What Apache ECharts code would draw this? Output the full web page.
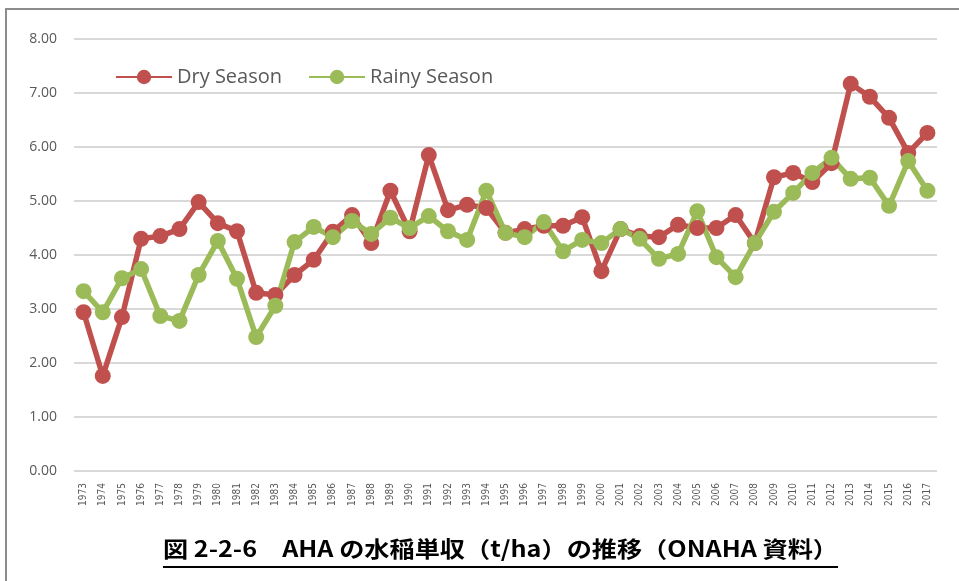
<!DOCTYPE html>
<html>
<head>
<meta charset="utf-8">
<script src="https://cdn.jsdelivr.net/npm/echarts@6/dist/echarts.min.js"></script>
<style>
  html, body { margin: 0; padding: 0; background: #fff; }
  #chart { width: 959px; height: 581px; }
</style>
</head>
<body>
<div id="chart"></div>
<script>
const years = [];
for (let y = 1973; y <= 2017; y++) years.push(String(y));

const drySeason = [
    2.94, 1.76, 2.85, 4.30, 4.35, 4.48, 4.98, 4.59, 4.44, 3.30,
    3.26, 3.63, 3.91, 4.43, 4.74, 4.22, 5.19, 4.44, 5.85, 4.83,
    4.93, 4.87, 4.41, 4.48, 4.54, 4.54, 4.70, 3.70, 4.48, 4.35,
    4.33, 4.56, 4.50, 4.50, 4.74, 4.22, 5.44, 5.52, 5.35, 5.70,
    7.17, 6.93, 6.54, 5.89, 6.26
];

const rainySeason = [
    3.33, 2.94, 3.57, 3.74, 2.87, 2.78, 3.63, 4.26, 3.56, 2.48,
    3.06, 4.24, 4.52, 4.33, 4.63, 4.39, 4.69, 4.50, 4.72, 4.44,
    4.28, 5.19, 4.41, 4.33, 4.61, 4.07, 4.28, 4.22, 4.48, 4.30,
    3.93, 4.02, 4.81, 3.96, 3.59, 4.22, 4.80, 5.15, 5.52, 5.80,
    5.41, 5.43, 4.91, 5.74, 5.19
];

const caption = '図 2-2-6　AHA の水稲単収（t/ha）の推移（ONAHA 資料）';
const captionFont = 'bold 22px "Noto Sans CJK JP"';

// stretch the caption so it spans the same width as the original
const ctx = document.createElement('canvas').getContext('2d');
ctx.font = captionFont;
const captionScale = 675 / ctx.measureText(caption).width;

const chart = echarts.init(document.getElementById('chart'));

chart.setOption({
    animation: false,
    backgroundColor: '#fff',
    grid: { left: 74, right: 22, top: 39, bottom: 110 },
    legend: {
        left: 110,
        top: 62,
        itemWidth: 56,
        itemHeight: 18,
        itemGap: 26,
        textStyle: { fontFamily: 'Open Sans', fontSize: 20, color: '#595959' },
        data: ['Dry Season', 'Rainy Season']
    },
    xAxis: {
        type: 'category',
        data: years,
        boundaryGap: true,
        axisLine: { show: false },
        axisTick: { show: false },
        axisLabel: {
            rotate: 90,
            interval: 0,
            fontSize: 10,
            color: '#595959',
            fontFamily: 'DejaVu Sans Condensed',
            margin: 12
        }
    },
    yAxis: {
        type: 'value',
        min: 0,
        max: 8,
        interval: 1,
        axisLine: { show: false },
        axisTick: { show: false },
        axisLabel: {
            formatter: v => v.toFixed(2),
            fontSize: 14,
            color: '#595959',
            fontFamily: 'Open Sans',
            margin: 17
        },
        splitLine: { lineStyle: { color: '#d9d9d9', width: 2 } }
    },
    series: [
        {
            name: 'Dry Season',
            type: 'line',
            data: drySeason,
            symbol: 'circle',
            symbolSize: 16,
            itemStyle: { color: '#c0504d' },
            lineStyle: { color: '#c0504d', width: 5.5 }
        },
        {
            name: 'Rainy Season',
            type: 'line',
            data: rainySeason,
            symbol: 'circle',
            symbolSize: 16,
            itemStyle: { color: '#9bbb59' },
            lineStyle: { color: '#9bbb59', width: 5.5 }
        }
    ],
    graphic: [
        {
            type: 'rect',
            shape: { x: 6, y: 9, width: 1000, height: 700 },
            style: { fill: null, stroke: '#8c8c8c', lineWidth: 2 },
            silent: true
        },
        {
            type: 'text',
            x: 163,
            y: 538,
            scaleX: captionScale,
            style: {
                text: caption,
                font: captionFont,
                fill: '#000'
            }
        },
        {
            type: 'line',
            shape: { x1: 163, y1: 567, x2: 838, y2: 567 },
            style: { stroke: '#000', lineWidth: 2 }
        }
    ]
});
</script>
</body>
</html>
